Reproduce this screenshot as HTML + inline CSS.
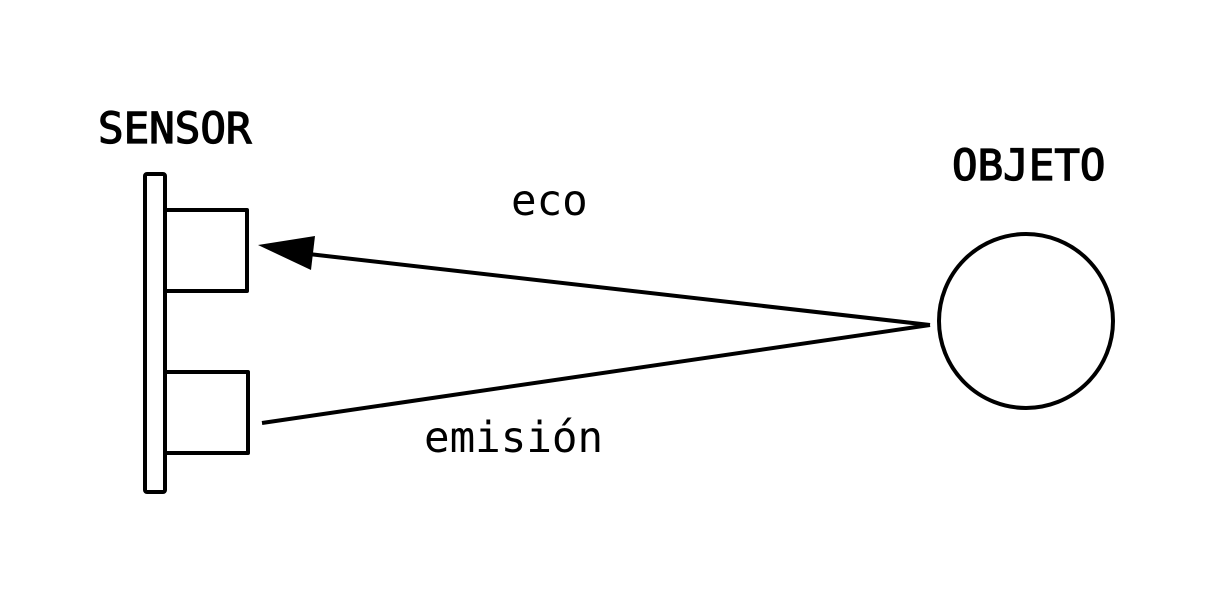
<!DOCTYPE html>
<html><head><meta charset="utf-8"><style>
html,body{margin:0;padding:0;background:#fff;}
svg{display:block;}
</style></head><body>
<svg width="1209" height="609" viewBox="0 0 1209 609" xmlns="http://www.w3.org/2000/svg">
<rect width="1209" height="609" fill="#fff"/>
<g fill="none" stroke="#000" stroke-width="4" stroke-linejoin="round">
<rect x="145" y="174" width="20" height="318" rx="2"/>
<path d="M165 210 H247 V291 H165"/>
<path d="M165 372 H248 V453 H165"/>
<circle cx="1026" cy="321" r="87"/>
<line x1="930" y1="325" x2="300" y2="253"/>
<line x1="930" y1="325" x2="262" y2="423"/>
</g>
<polygon points="258,245 315,236 311,270" fill="#000"/>
<g font-family="'DejaVu Sans Mono','Liberation Mono',monospace" font-size="42.5" fill="#000">
<text x="98" y="143" stroke="#000" stroke-width="1.3">SENSOR</text>
<text x="952" y="180" stroke="#000" stroke-width="1.3">OBJETO</text>
<text x="511" y="215">eco</text>
<text x="424" y="452">emisión</text>
</g>
</svg>
</body></html>
